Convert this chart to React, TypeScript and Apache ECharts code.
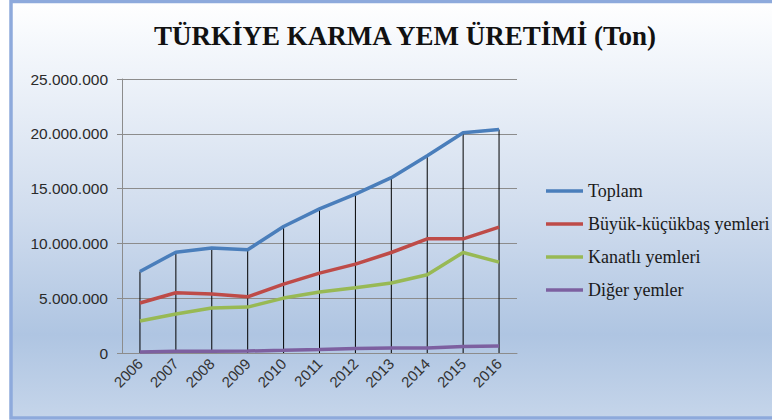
import React, { useEffect, useRef } from "react";
import * as echarts from "echarts";

const years = ["2006", "2007", "2008", "2009", "2010", "2011", "2012", "2013", "2014", "2015", "2016"];
const toplam = [7440000, 9200000, 9570000, 9420000, 11540000, 13150000, 14490000, 16000000, 18000000, 20100000, 20400000];
const buyukKucukbas = [4560000, 5500000, 5380000, 5130000, 6290000, 7290000, 8110000, 9170000, 10420000, 10420000, 11480000];
const kanatli = [2920000, 3550000, 4100000, 4190000, 5010000, 5560000, 5950000, 6380000, 7140000, 9170000, 8290000];
const diger = [100000, 150000, 170000, 180000, 250000, 330000, 420000, 450000, 450000, 600000, 650000];
const seriesNames = ["Toplam", "Büyük-küçükbaş yemleri", "Kanatlı yemleri", "Diğer yemler"];
const colors = ["#4a7ebb", "#be4b48", "#98b954", "#7d60a0"];
const yTicks = { min: 0, max: 25000000, interval: 5000000 };

const fmt = (v: number) => String(v).replace(/\B(?=(\d{3})+(?!\d))/g, ".");

export default function App() {
  const ref = useRef<HTMLDivElement>(null);
  useEffect(() => {
    if (!ref.current) return;
    const chart = echarts.init(ref.current, null, { renderer: "svg" });
    const lineSeries = [toplam, buyukKucukbas, kanatli, diger].map((d, i) => ({
      name: seriesNames[i],
      type: "line",
      data: d,
      symbol: "none",
      z: 5,
      lineStyle: { color: colors[i], width: 3.5 },
      itemStyle: { color: colors[i] },
    }));
    chart.setOption({
      animation: false,
      graphic: [
        {
          type: "rect",
          z: -100,
          silent: true,
          shape: { x: 11, y: 1.5, width: 775, height: 416.5 },
          style: {
            stroke: "#8eaadc",
            lineWidth: 3.5,
            fill: new echarts.graphic.LinearGradient(0, 0, 0, 1, [
              { offset: 0, color: "#ffffff" },
              { offset: 0.1, color: "#f5f8fc" },
              { offset: 0.5, color: "#d1ddee" },
              { offset: 0.8, color: "#afc5e2" },
              { offset: 1, color: "#c5d5ea" },
            ]),
          },
        },
      ],
      title: {
        text: "TÜRKİYE KARMA YEM ÜRETİMİ (Ton)",
        left: 400,
        textAlign: "center",
        top: 17,
        textStyle: {
          fontFamily: "Liberation Serif",
          fontWeight: "bold",
          fontSize: 27,
          color: "#111111",
        },
      },
      legend: {
        data: seriesNames,
        orient: "vertical",
        left: 541,
        top: 176,
        icon: "rect",
        itemWidth: 37,
        itemHeight: 3.5,
        itemGap: 13,
        textStyle: {
          fontFamily: "Liberation Serif",
          fontSize: 18,
          lineHeight: 20,
          color: "#1a1a1a",
        },
      },
      grid: { left: 122, right: 255, top: 79, bottom: 67, containLabel: false },
      xAxis: {
        type: "category",
        data: years,
        boundaryGap: true,
        axisLine: { lineStyle: { color: "#8c8c8c", width: 1 } },
        axisTick: { show: false },
        axisLabel: {
          rotate: 45,
          margin: 8,
          fontFamily: "Liberation Sans",
          fontSize: 15,
          color: "#333333",
        },
      },
      yAxis: {
        type: "value",
        min: yTicks.min,
        max: yTicks.max,
        interval: yTicks.interval,
        axisLine: { show: true, lineStyle: { color: "#8c8c8c", width: 1 } },
        axisTick: { show: true, length: 5, lineStyle: { color: "#8c8c8c" } },
        splitLine: { lineStyle: { color: "#8c8c8c", width: 1 } },
        axisLabel: {
          formatter: (v: number) => fmt(v),
          margin: 14,
          fontFamily: "Liberation Sans",
          fontSize: 15.5,
          color: "#2b2b2b",
        },
      },
      series: [
        {
          name: "dropLines",
          type: "bar",
          data: toplam,
          barWidth: 1,
          z: 2,
          silent: true,
          itemStyle: { color: "#000000" },
        },
        ...lineSeries,
      ],
    });
    return () => chart.dispose();
  }, []);
  return <div ref={ref} style={{ position: "absolute", left: 0, top: 0, width: 772, height: 420 }} />;
}
